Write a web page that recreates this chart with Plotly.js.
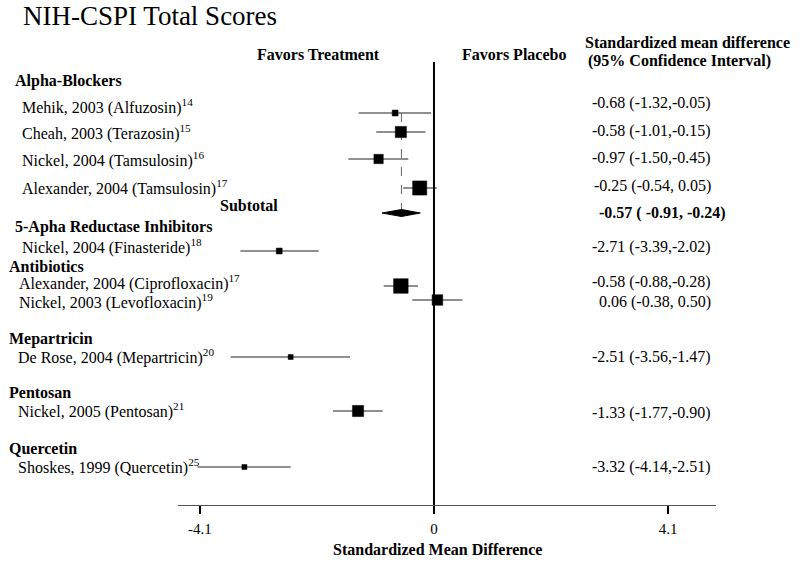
<!DOCTYPE html>
<html>
<head>
<meta charset="utf-8">
<script src="https://cdn.plot.ly/plotly-3.0.1.min.js"></script>
<style>
  html, body { margin: 0; padding: 0; background: #fff; }
  #myDiv { width: 800px; height: 566px; }
</style>
</head>
<body>
<div id="myDiv"></div>
<script>
// ---- data ----
const groups = ['Alpha-Blockers', '5-Apha Reductase Inhibitors', 'Antibiotics', 'Mepartricin', 'Pentosan', 'Quercetin'];
const studies = [
    'Mehik, 2003 (Alfuzosin)',
    'Cheah, 2003 (Terazosin)',
    'Nickel, 2004 (Tamsulosin)',
    'Alexander, 2004 (Tamsulosin)',
    'Nickel, 2004 (Finasteride)',
    'Alexander, 2004 (Ciprofloxacin)',
    'Nickel, 2003 (Levofloxacin)',
    'De Rose, 2004 (Mepartricin)',
    'Nickel, 2005 (Pentosan)',
    'Shoskes, 1999 (Quercetin)'
];
const refs = ['14', '15', '16', '17', '18', '17', '19', '20', '21', '25'];
const smd = [-0.68, -0.58, -0.97, -0.25, -2.71, -0.58, 0.06, -2.51, -1.33, -3.32];
const ciLow = [-1.32, -1.01, -1.50, -0.54, -3.39, -0.88, -0.38, -3.56, -1.77, -4.14];
const ciHigh = [-0.05, -0.15, -0.45, 0.05, -2.02, -0.28, 0.50, -1.47, -0.90, -2.51];
const weights = [1.4, 5, 3.5, 8, 1.4, 8.5, 4.5, 1, 5, 1]; // relative box sizes, estimated
const subtotalSmd = -0.57;
const subtotalLow = -0.91;
const subtotalHigh = -0.24;
const tickVals = [-4.1, 0, 4.1];
const tickText = ['-4.1', '0', '4.1'];

// ---- layout (pixel rows of the page) ----
const W = 800, H = 566;
const rowY = [113, 132, 159, 188, 251, 286, 300, 357, 411, 467];
const labelY = [106, 132, 159, 187, 246, 282, 301, 356, 410, 466];
const labelX = [20, 20, 20, 20, 20, 17, 17, 16, 16, 16];
const valueY = [103, 131, 158, 186, 247, 282, 302, 357, 413, 467];
const groupY = [81, 227, 266, 339, 392, 448];
const groupX = [13, 13, 7, 7, 7, 7];
const subtotalY = 213;

const SERIF = 'Liberation Serif, Times New Roman, serif';

function px(x) { return x / W; }
function py(y) { return 1 - y / H; }
function fmt(v) { return v.toFixed(2); }
function ciText(i) {
    return fmt(smd[i]) + ' (' + fmt(ciLow[i]) + ',' + (ciHigh[i] >= 0 ? ' ' : '') + fmt(ciHigh[i]) + ')';
}

// CI whiskers
var ciX = [], ciY = [];
for (let i = 0; i < studies.length; i++) {
    ciX.push(ciLow[i], ciHigh[i], null);
    ciY.push(rowY[i], rowY[i], null);
}
var whiskers = {
    x: ciX, y: ciY,
    mode: 'lines', type: 'scatter',
    line: {color: '#222', width: 1.2},
    hoverinfo: 'skip'
};

var boxes = {
    x: smd, y: rowY,
    mode: 'markers', type: 'scatter',
    marker: {
        symbol: 'square',
        color: '#000',
        opacity: 1,
        size: weights.map(w => 5 * Math.sqrt(w)),
        line: {width: 0.5, color: '#000'}
    },
    text: studies
};

var subLine = {
    x: [subtotalSmd, subtotalSmd], y: [rowY[0], subtotalY - 3],
    mode: 'lines', type: 'scatter',
    line: {color: '#666', width: 1, dash: 'dash'},
    hoverinfo: 'skip'
};

var diamond = {
    x: [subtotalLow, subtotalSmd, subtotalHigh, subtotalSmd, subtotalLow],
    y: [subtotalY, subtotalY - 3.5, subtotalY, subtotalY + 3.5, subtotalY],
    mode: 'lines', type: 'scatter', fill: 'toself',
    fillcolor: '#000',
    line: {color: '#000', width: 1},
    hoverinfo: 'skip'
};

var annotations = [];
function addText(text, x, y, size, anchor) {
    annotations.push({
        text: text, xref: 'paper', yref: 'paper',
        x: px(x), y: py(y), xanchor: anchor || 'left', yanchor: 'middle',
        showarrow: false,
        font: {family: SERIF, size: size, color: '#000'}
    });
}

addText('NIH-CSPI Total Scores', 21, 16, 27);
addText('<b>Favors Treatment</b>', 318, 54, 16, 'center');
addText('<b>Favors Placebo</b>', 514, 54, 16, 'center');
addText('<b>Standardized mean difference</b>', 687, 43, 16, 'center');
addText('<b>(95% Confidence Interval)</b>', 679, 61, 16, 'center');

for (let g = 0; g < groups.length; g++) {
    addText('<b>' + groups[g] + '</b>', groupX[g], groupY[g], 16);
}
for (let i = 0; i < studies.length; i++) {
    addText(studies[i] + '<sup>' + refs[i] + '</sup>', labelX[i], labelY[i], 16);
    addText(ciText(i), 713, valueY[i], 16, 'right');
}
addText('<b>Subtotal</b>', 218, 206, 16);
addText('<b>' + fmt(subtotalSmd) + ' ( ' + fmt(subtotalLow) + ', ' + fmt(subtotalHigh) + ')</b>', 597, 213, 16);
addText('<b>Standardized Mean Difference</b>', 437, 549, 16, 'center');

var layout = {
    width: W, height: H,
    margin: {l: 0, r: 0, t: 0, b: 0},
    paper_bgcolor: '#fff',
    plot_bgcolor: 'rgba(0,0,0,0)',
    showlegend: false,
    font: {family: SERIF, size: 16, color: '#000'},
    xaxis: {
        domain: [178 / W, 716 / W],
        range: [-4.483, 4.939],
        tickmode: 'array',
        tickvals: tickVals,
        ticktext: tickText,
        ticks: 'outside', ticklen: 8, tickwidth: 1.3, tickcolor: '#000',
        showline: true, linecolor: '#555', linewidth: 1,
        showgrid: false, zeroline: false,
        ticklabelstandoff: 2,
        tickfont: {family: SERIF, size: 15, color: '#000'},
        fixedrange: true
    },
    yaxis: {
        domain: [61 / H, 1],
        range: [505, 0],
        visible: false,
        fixedrange: true
    },
    shapes: [{
        type: 'line', xref: 'x', yref: 'y',
        x0: 0, x1: 0, y0: 62, y1: 505,
        line: {color: '#000', width: 2}
    }],
    annotations: annotations
};

Plotly.newPlot('myDiv', [whiskers, subLine, diamond, boxes], layout, {displayModeBar: false, staticPlot: true});
</script>
</body>
</html>
